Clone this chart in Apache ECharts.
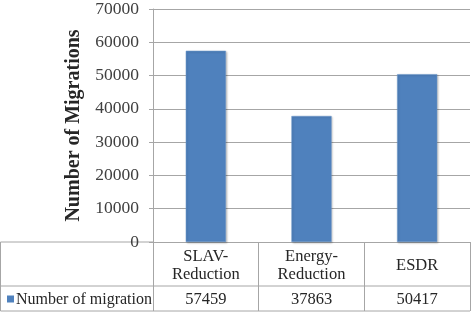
<!DOCTYPE html>
<html><head><meta charset="utf-8">
<script src="https://cdn.jsdelivr.net/npm/echarts@6/dist/echarts.min.js"></script>
<style>html,body{margin:0;padding:0;background:#fff}#c{width:472px;height:313px}</style>
</head><body><div id="c"></div>
<script>
const categories = ['SLAV-\nReduction', 'Energy-\nReduction', 'ESDR'];
const values = [57459, 37863, 50417];
const seriesName = 'Number of migration';
const yTicks = [0, 10000, 20000, 30000, 40000, 50000, 60000, 70000];

const FONT = '"Liberation Serif", "Times New Roman", serif';
const TXT = '#262626';
const LINE = '#a6a6a6';
const BLUE = '#4F81BD';

const chart = echarts.init(document.getElementById('c'), null, {renderer: 'canvas'});
chart.setOption({
  animation: false,
  grid: {left: 153, right: 2, top: 7, bottom: 71},
  xAxis: {
    type: 'category', data: categories,
    axisLine: {show: true, lineStyle: {color: LINE}},
    axisTick: {show: true, length: 69, lineStyle: {color: LINE}},
    axisLabel: {show: false}
  },
  yAxis: {
    type: 'value', min: yTicks[0], max: yTicks[yTicks.length - 1], interval: 10000,
    name: 'Number of Migrations', nameLocation: 'middle', nameGap: 69,
    nameTextStyle: {fontFamily: FONT, fontWeight: 'bold', fontSize: 20, color: TXT},
    axisLine: {show: true, lineStyle: {color: LINE}},
    axisTick: {show: true, length: 4, lineStyle: {color: LINE}},
    axisLabel: {fontFamily: FONT, fontSize: 17.5, color: '#404040', margin: 14,
      formatter: v => String(v)},
    splitLine: {show: true, lineStyle: {color: LINE}}
  },
  series: [{
    type: 'bar', name: seriesName, data: values, barWidth: '38%',
    itemStyle: {color: BLUE, borderColor: '#6f99cc', borderWidth: 0.5,
      shadowColor: 'rgba(0,0,0,0.25)', shadowBlur: 2, shadowOffsetX: 1, shadowOffsetY: 1}
  }]
});

// Data table below the plot
const g = [];
const y0 = chart.convertToPixel({yAxisIndex: 0}, 0);
const plotLeft = 153, plotRight = 472 - 2;
const row1Bottom = y0 + 44, row2Bottom = y0 + 69;
g.push({type: 'line', shape: {x1: 0.5, y1: y0, x2: plotLeft, y2: y0}, style: {stroke: LINE, lineWidth: 1}});
g.push({type: 'line', shape: {x1: 0.5, y1: row1Bottom, x2: plotRight, y2: row1Bottom}, style: {stroke: LINE, lineWidth: 1}});
g.push({type: 'line', shape: {x1: 0.5, y1: row2Bottom, x2: plotRight, y2: row2Bottom}, style: {stroke: LINE, lineWidth: 1}});
g.push({type: 'line', shape: {x1: 0.5, y1: y0, x2: 0.5, y2: row2Bottom}, style: {stroke: LINE, lineWidth: 1}});
categories.forEach((c, i) => {
  const cx = chart.convertToPixel({xAxisIndex: 0}, i);
  g.push({type: 'text', x: cx, y: (y0 + row1Bottom) / 2 + 2,
    style: {text: c, fontFamily: FONT, fontSize: 16.5, lineHeight: 18, fill: TXT, align: 'center', verticalAlign: 'middle'}});
  g.push({type: 'text', x: cx, y: (row1Bottom + row2Bottom) / 2 + 1,
    style: {text: String(values[i]), fontFamily: FONT, fontSize: 16.5, fill: TXT, align: 'center', verticalAlign: 'middle'}});
});
g.push({type: 'rect', shape: {x: 7, y: (row1Bottom + row2Bottom) / 2 - 3, width: 7, height: 7}, style: {fill: BLUE}});
g.push({type: 'text', x: 16, y: (row1Bottom + row2Bottom) / 2 + 1,
  style: {text: seriesName, fontFamily: FONT, fontSize: 16, fill: TXT, align: 'left', verticalAlign: 'middle'}});
chart.setOption({graphic: g});
</script></body></html>
